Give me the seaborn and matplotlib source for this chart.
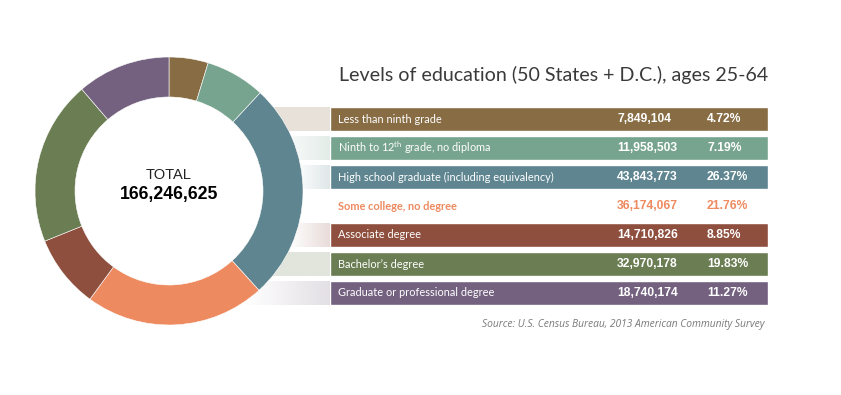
import numpy as np
import pandas as pd
import matplotlib
matplotlib.use("Agg")
import matplotlib.pyplot as plt
import seaborn as sns
from matplotlib.colors import to_rgb

# ---------------- data ----------------
categories = [
    "Less than ninth grade",
    "Ninth to 12$^{\\mathrm{th}}$ grade, no diploma",
    "High school graduate (including equivalency)",
    "Some college, no degree",
    "Associate degree",
    "Bachelor\u2019s degree",
    "Graduate or professional degree",
]
counts = [7849104, 11958503, 43843773, 36174067, 14710826, 32970178, 18740174]
percents = [4.72, 7.19, 26.37, 21.76, 8.85, 19.83, 11.27]
colors = ["#876c44", "#77a48e", "#5e8590", "#ee8a5f", "#8e4f3e", "#6b7d52", "#73617f"]
highlight = [False, False, False, True, False, False, False]
total_label = "TOTAL"
total_value = "166,246,625"
title = "Levels of education (50 States + D.C.), ages 25-64"
source = "Source: U.S. Census Bureau, 2013 American Community Survey"
row_span = [1, 1, 1, 1, 1, 1, 1]

# connector styles (decorative): start x in px, solid or gradient
conn_start = [240, 273, 295, None, 288, 240, 245]
conn_solid = [True, False, False, None, False, True, False]

# ---------------- setup ----------------
sns.set_theme(style="white")
plt.rcParams["font.family"] = ["Lato", "DejaVu Sans"]
plt.rcParams["mathtext.fontset"] = "custom"
plt.rcParams["mathtext.rm"] = "Lato"
plt.rcParams["mathtext.it"] = "Lato:italic"
plt.rcParams["mathtext.bf"] = "Lato:bold"

W, H = 841, 395
fig = plt.figure(figsize=(W / 100, H / 100), dpi=100)
fig.patch.set_facecolor("white")

# background overlay axes in pixel coordinates
ax_bg = fig.add_axes([0, 0, 1, 1], zorder=0)
ax_bg.set_xlim(0, W)
ax_bg.set_ylim(H, 0)
ax_bg.axis("off")

row_top_px = 104.5
pitch = 29.0
bar_h = 24.0
tab_left, tab_right = 330, 768

def tint(c, t=0.2):
    r = np.array(to_rgb(c))
    return 1 - t * (1 - r)

for i, c in enumerate(colors):
    if conn_start[i] is None:
        continue
    cy = row_top_px + pitch * (i + 0.5)
    tc = tint(c)
    n = 256
    img = np.ones((2, n, 4))
    img[..., :3] = tc
    if conn_solid[i]:
        img[..., 3] = 1.0
    else:
        img[..., 3] = np.linspace(0, 1, n)[None, :]
    ax_bg.imshow(img, extent=[conn_start[i], tab_left + 1, cy + bar_h / 2, cy - bar_h / 2],
                 aspect="auto", interpolation="bilinear", zorder=1)

ax_bg.text(tab_right, 75, title, ha="right", va="center", fontsize=14.1,
           color="#3a3a3a", family=["Lato", "DejaVu Sans"])
ax_bg.text(765, 324, source, ha="right", va="center", fontsize=7.4,
           color="#7a7a7a", style="italic", family=["Open Sans", "DejaVu Sans"])

# ---------------- table ----------------
n = len(categories)
tab_h = pitch * n
ax_tab = fig.add_axes([tab_left / W, (H - row_top_px - tab_h) / H,
                       (tab_right - tab_left) / W, tab_h / H], zorder=1)
ax_tab.patch.set_alpha(0)
df = pd.DataFrame({"cat": categories, "span": row_span})
pal = {cat: ("white" if hl else c) for cat, c, hl in zip(categories, colors, highlight)}
sns.barplot(data=df, x="span", y="cat", hue="cat", palette=pal, legend=False,
            width=bar_h / pitch, saturation=1, ax=ax_tab, orient="h")
ax_tab.set_xlim(0, 1)
ax_tab.set_ylim(n - 0.5, -0.5)
ax_tab.axis("off")

for i, (cat, cnt, pct, c, hl) in enumerate(zip(categories, counts, percents, colors, highlight)):
    tc = c if hl else "white"
    ax_tab.text(8 / 438, i, cat, ha="left", va="center", fontsize=7.9,
                color=tc, fontweight="bold" if hl else "normal",
                family=["Lato", "DejaVu Sans"])
    ax_tab.text((617 - 330) / 438, i, f"{cnt:,}", ha="left", va="center",
                fontsize=8.7, fontweight="bold", color=tc,
                family=["Liberation Sans", "DejaVu Sans"])
    ax_tab.text((707 - 330) / 438, i, f"{pct:.2f}%", ha="left", va="center",
                fontsize=8.7, fontweight="bold", color=tc,
                family=["Liberation Sans", "DejaVu Sans"])

# ---------------- donut ----------------
cx, cy, R = 169, 191, 134
ax_pie = fig.add_axes([(cx - R) / W, (H - cy - R) / H, 2 * R / W, 2 * R / H], zorder=2)
ax_pie.pie(counts, colors=colors, startangle=90, counterclock=False,
           wedgeprops=dict(width=1 - 94 / 134, edgecolor="white", linewidth=0.4))
ax_pie.set_xlim(-1, 1)
ax_pie.set_ylim(-1, 1)
ax_pie.set_aspect("equal")
ax_pie.patch.set_alpha(0)
ax_pie.axis("off")
ax_pie.text(0, (cy - 175) / R, total_label, ha="center", va="center", fontsize=10.5,
            color="#222222", family=["Liberation Sans", "DejaVu Sans"])
ax_pie.text(0, (cy - 194) / R, total_value, ha="center", va="center", fontsize=12.7,
            fontweight="bold", color="black", family=["Liberation Sans", "DejaVu Sans"])

fig.savefig("out.png", dpi=100, facecolor="white")
